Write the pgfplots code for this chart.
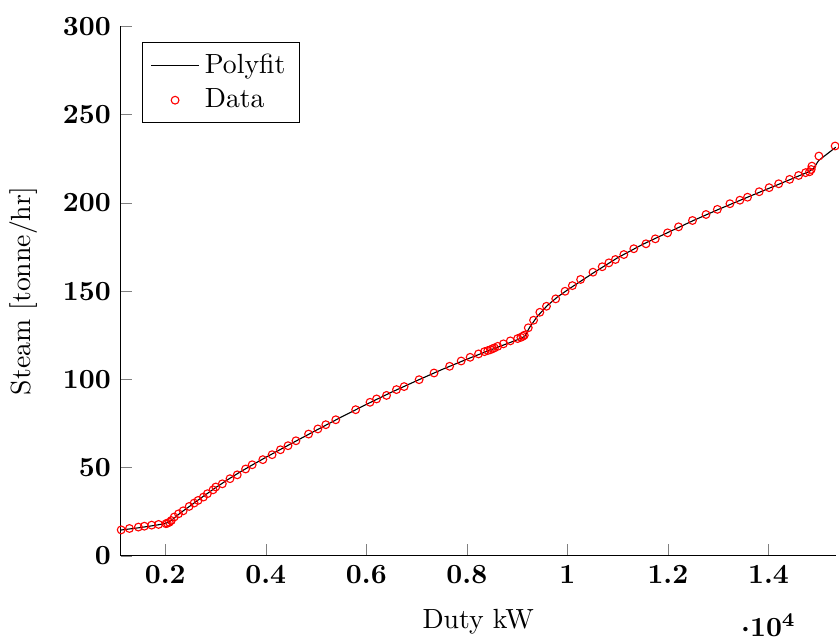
\documentclass[border=0pt]{standalone}
\usepackage{pgfplots}
\pgfplotsset{compat=1.18}
\usepackage{pgfplotstable}
\pgfplotstableread{
x y
1123 14.7
1287 15.5
1465 16.3
1584 16.8
1729 17.4
1867 17.8
2014 18.2
2040 18.5
2080 19.0
2120 20.0
2178 22.0
2263 23.8
2356 25.5
2475 28.0
2574 29.9
2653 31.4
2758 33.3
2838 35.2
2950 37.4
3004 39.0
3135 40.8
3287 43.7
3432 45.9
3598 49.2
3729 51.6
3941 54.5
4125 57.3
4291 60.1
4442 62.4
4600 65.2
4851 69.0
5036 71.9
5194 74.3
5392 77.1
5788 82.8
6073 87.0
6204 88.9
6402 90.9
6600 94.2
6752 95.9
7050 99.8
7347 103.6
7657 107.4
7887 110.4
8065 112.5
8232 114.4
8350 115.7
8416 116.3
8469 116.8
8515 117.4
8549 117.8
8614 118.7
8727 120.1
8865 121.8
9010 123.1
9075 123.8
9115 124.4
9143 125.0
9222 129.2
9327 133.5
9452 138.0
9584 141.4
9768 145.6
9954 149.9
10099 153.1
10263 156.6
10509 160.7
10693 163.8
10826 166.0
10956 167.9
11123 170.7
11321 174.0
11564 176.8
11749 179.6
11994 183.0
12212 186.4
12489 190.0
12758 193.4
12984 196.3
13234 199.5
13432 201.5
13584 203.2
13816 206.3
14014 208.6
14204 210.8
14422 213.3
14600 215.5
14739 217.1
14818 217.6
14851 218.9
14865 220.8
15004 226.5
15327 232.2
}\datatable
\pgfplotstableread{
x y
1110 14.6
1500 16.0
1800 17.3
2000 18.3
2100 19.6
2300 24.3
2500 28.4
2750 33.6
3000 38.6
3250 43.3
3500 47.7
3750 51.8
4000 55.8
4500 63.5
5000 71.1
5500 78.6
6000 85.8
6500 92.7
7000 99.2
7500 105.5
8000 111.4
8500 117.0
8800 120.2
9000 122.4
9150 124.3
9250 129.5
9400 135.6
9600 141.8
9800 146.6
10000 150.6
10500 160.0
11000 168.9
11500 176.5
12000 183.2
12500 189.9
13000 196.2
13500 202.2
14000 208.1
14500 214.0
14800 217.6
14900 219.6
15000 224.0
15340 231.5
}\polytable
\begin{document}
\begin{tikzpicture}
\begin{axis}[
  scale only axis,
  width=258pt, height=191pt,
  axis lines*=left,
  xmin=1110, xmax=15340,
  ymin=0, ymax=300,
  xtick={2000,4000,...,14000},
  ytick={0,50,...,300},
  scaled x ticks=base 10:-4,
  ticklabel style={font=\boldmath},
  every x tick scale label/.style={at={(axis description cs:0.906,0)},anchor=base,yshift=-29pt,inner sep=0.8pt,font=\boldmath},
  tick align=inside,
  xlabel={Duty kW},
  xlabel style={yshift=-2.5pt},
  ylabel={Steam [tonne/hr]},
  ylabel shift=2.5pt,
  legend pos=north west,
  legend cell align=left,
]
\addplot[black, no marks] table[x=x,y=y] {\polytable};
\addlegendentry{Polyfit}
\addplot[red, only marks, mark=o, mark size=1.4pt] table[x=x,y=y] {\datatable};
\addlegendentry{Data}
\end{axis}
\path ([yshift=9.5pt]current axis.north);
\end{tikzpicture}
\end{document}
